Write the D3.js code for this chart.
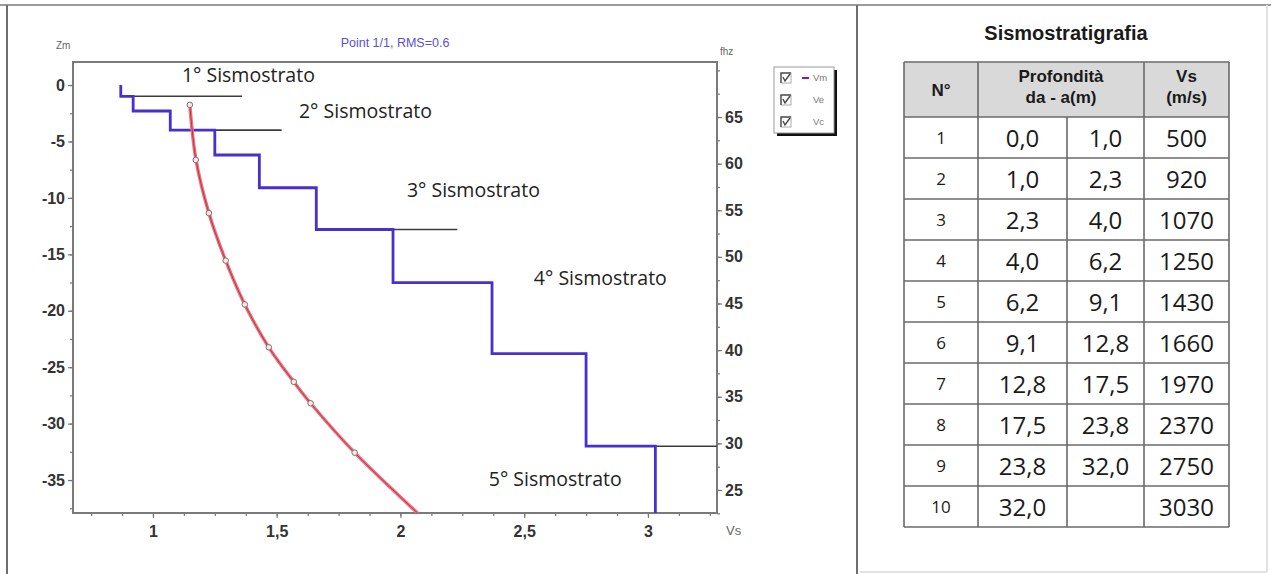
<!DOCTYPE html>
<html>
<head>
<meta charset="utf-8">
<script src="https://cdn.jsdelivr.net/npm/d3@7"></script>
<style>
  body { margin: 0; background: #fff; }
  svg { display: block; }
</style>
</head>
<body>
<script>
// step profile (Vm), depth of layer tops in m, Vs in km/s
const layerTop = [0, 1.0, 2.3, 4.0, 6.2, 9.1, 12.8, 17.5, 23.8, 32.0]
const layerVs = [0.87, 0.92, 1.07, 1.25, 1.43, 1.66, 1.97, 2.37, 2.75, 3.03]

// sismostrato boundaries (black lines)
const boundDepth = [1.0, 4.0, 12.8, 32.0]
const boundFrom = [0.88, 1.07, 1.77, 2.82]
const boundTo = [1.36, 1.52, 2.23, 3.28]

const strataNames = ["1° Sismostrato", "2° Sismostrato", "3° Sismostrato", "4° Sismostrato", "5° Sismostrato"]
const strataVs = [1.117, 1.59, 2.026, 2.539, 2.357]
const strataDepth = [0.27, -2.92, -9.92, -17.72, -35.53]

// observed dispersion points (Ve) and fitted curve (Vc) vs frequency
const obsVs = [1.149, 1.173, 1.226, 1.294, 1.371, 1.468, 1.569, 1.637, 1.815]
const obsHz = [66.3, 60.4, 54.7, 49.6, 44.9, 40.3, 36.6, 34.3, 29.0]
const fitVs = [1.149, 1.174, 1.226, 1.294, 1.371, 1.468, 1.569, 1.637, 1.815, 1.97, 2.07]
const fitHz = [66.3, 60.4, 54.7, 49.6, 44.9, 40.3, 36.6, 34.3, 29.0, 25.0, 22.5]

const depthTicks = [0, -5, -10, -15, -20, -25, -30, -35]
const hzTicks = [25, 30, 35, 40, 45, 50, 55, 60, 65]
const vsTicks = [1, 1.5, 2, 2.5, 3]

// table
const tabNo = [1, 2, 3, 4, 5, 6, 7, 8, 9, 10]
const tabFrom = ["0,0", "1,0", "2,3", "4,0", "6,2", "9,1", "12,8", "17,5", "23,8", "32,0"]
const tabTo = ["1,0", "2,3", "4,0", "6,2", "9,1", "12,8", "17,5", "23,8", "32,0", ""]
const tabVs = [500, 920, 1070, 1250, 1430, 1660, 1970, 2370, 2750, 3030]

const legendNames = ["Vm", "Ve", "Vc"]

const W = 1271, H = 574
const svg = d3.select("body").append("svg").attr("width", W).attr("height", H)

// panel frames
svg.append("line").attr("x1", 0).attr("x2", W).attr("y1", 5).attr("y2", 5)
    .attr("stroke", "#9a9a9a").attr("stroke-width", 2)
svg.append("line").attr("x1", 7).attr("x2", 7).attr("y1", 5).attr("y2", H)
    .attr("stroke", "#6e6e6e").attr("stroke-width", 2)
svg.append("line").attr("x1", 857).attr("x2", 857).attr("y1", 5).attr("y2", H)
    .attr("stroke", "#6e6e6e").attr("stroke-width", 2)
svg.append("line").attr("x1", 1267).attr("x2", 1267).attr("y1", 5).attr("y2", H - 2)
    .attr("stroke", "#e2e2e2").attr("stroke-width", 2)
svg.append("line").attr("x1", 860).attr("x2", 1267).attr("y1", H - 2).attr("y2", H - 2)
    .attr("stroke", "#e2e2e2").attr("stroke-width", 2)

const plot = { left: 73, right: 717, top: 62, bottom: 513 }

const x = d3.scaleLinear().domain([0.677, 3.279]).range([plot.left, plot.right])
const y = d3.scaleLinear().domain([-37.92, 2.04]).range([plot.bottom, plot.top])
const yHz = d3.scaleLinear().domain([22.53, 70.9]).range([plot.bottom, plot.top])

svg.append("clipPath").attr("id", "clip").append("rect")
    .attr("x", plot.left).attr("y", plot.top)
    .attr("width", plot.right - plot.left).attr("height", plot.bottom - plot.top)

const tickFont = "'Liberation Sans', Arial, sans-serif"

function styleAxis(g) {
    g.select(".domain").remove()
    g.selectAll(".tick line").attr("stroke", "#777").attr("stroke-width", 1.2)
    g.selectAll(".tick text").attr("fill", "#333")
        .style("font-family", tickFont).style("font-size", "16px").style("font-weight", "bold")
}

// minor ticks
svg.append("g").attr("transform", `translate(0,${plot.bottom})`)
    .call(d3.axisBottom(x).tickValues(d3.range(0.75, 3.28, 0.125)).tickSize(3).tickFormat(""))
    .call(styleAxis)
svg.append("g").attr("transform", `translate(${plot.left},0)`)
    .call(d3.axisLeft(y).tickValues(d3.range(-37.5, 2.1, 2.5)).tickSize(3).tickFormat(""))
    .call(styleAxis)
svg.append("g").attr("transform", `translate(${plot.right},0)`)
    .call(d3.axisRight(yHz).tickValues(d3.range(22.5, 71, 2.5)).tickSize(3).tickFormat(""))
    .call(styleAxis)

// major axes
svg.append("g").attr("transform", `translate(0,${plot.bottom})`)
    .call(d3.axisBottom(x).tickValues(vsTicks).tickSize(5).tickPadding(8)
        .tickFormat(d => String(d).replace(".", ",")))
    .call(styleAxis)
svg.append("g").attr("transform", `translate(${plot.left},0)`)
    .call(d3.axisLeft(y).tickValues(depthTicks).tickSize(5).tickPadding(3).tickFormat(d => String(d)))
    .call(styleAxis)
svg.append("g").attr("transform", `translate(${plot.right},0)`)
    .call(d3.axisRight(yHz).tickValues(hzTicks).tickSize(5).tickPadding(3))
    .call(styleAxis)

// plot frame
svg.append("rect").attr("x", plot.left).attr("y", plot.top)
    .attr("width", plot.right - plot.left).attr("height", plot.bottom - plot.top)
    .attr("fill", "none").attr("stroke", "#7a7a7a").attr("stroke-width", 2)

// axis captions
svg.append("text").attr("x", 56).attr("y", 49).text("Zm")
    .attr("fill", "#666").style("font-family", tickFont).style("font-size", "10px")
svg.append("text").attr("x", 720).attr("y", 55).text("fhz")
    .attr("fill", "#666").style("font-family", tickFont).style("font-size", "10px")
svg.append("text").attr("x", 726).attr("y", 535).text("Vs")
    .attr("fill", "#666").style("font-family", tickFont).style("font-size", "13px")
svg.append("text").attr("x", 395).attr("y", 47).attr("text-anchor", "middle")
    .text("Point 1/1, RMS=0.6")
    .attr("fill", "#5b4fd6").style("font-family", tickFont).style("font-size", "12.5px")

const area = svg.append("g").attr("clip-path", "url(#clip)")

// boundaries
area.selectAll(".bound").data(boundDepth).join("line").attr("class", "bound")
    .attr("x1", (d, i) => x(boundFrom[i])).attr("x2", (d, i) => x(boundTo[i]))
    .attr("y1", d => y(-d)).attr("y2", d => y(-d))
    .attr("stroke", "#3c3c3c").attr("stroke-width", 1.6)

// step profile
const stepPts = []
layerTop.forEach((t, i) => {
    const bottom = i < layerTop.length - 1 ? layerTop[i + 1] : 40
    stepPts.push([layerVs[i], -t], [layerVs[i], -bottom])
})
const line = d3.line().x(d => x(d[0])).y(d => y(d[1]))
area.append("path").attr("d", line(stepPts))
    .attr("fill", "none").attr("stroke", "#4a2fd0").attr("stroke-width", 2.8)
    .style("stroke-linejoin", "miter")

// fitted curve
const fitLine = d3.line().x(d => x(d[0])).y(d => yHz(d[1])).curve(d3.curveCatmullRom)
const fitPts = fitVs.map((v, i) => [v, fitHz[i]])
area.append("path").attr("d", fitLine(fitPts))
    .attr("fill", "none").attr("stroke", "#f0707e").attr("stroke-width", 3.4)
area.append("path").attr("d", fitLine(fitPts))
    .attr("fill", "none").attr("stroke", "#b83544").attr("stroke-width", 1)

// observed points
area.selectAll(".obs").data(obsVs).join("circle").attr("class", "obs")
    .attr("cx", d => x(d)).attr("cy", (d, i) => yHz(obsHz[i])).attr("r", 2.8)
    .attr("fill", "#fbe9ea").attr("stroke", "#8a6a6a").attr("stroke-width", 1)

// strata labels
svg.selectAll(".strata").data(strataNames).join("text").attr("class", "strata")
    .attr("x", (d, i) => x(strataVs[i])).attr("y", (d, i) => y(strataDepth[i]))
    .text(d => d).attr("fill", "#222")
    .style("font-family", "'Open Sans', sans-serif").style("font-size", "19.5px")

// legend
const lg = svg.append("g").attr("transform", "translate(774,67)")
lg.append("rect").attr("x", 3).attr("y", 3).attr("width", 60).attr("height", 66).attr("fill", "#111")
lg.append("rect").attr("x", 0).attr("y", 0).attr("width", 60).attr("height", 66)
    .attr("fill", "#fff").attr("stroke", "#999").attr("stroke-width", 1)
legendNames.forEach((n, i) => {
    const cy = 11 + i * 22
    lg.append("rect").attr("x", 7).attr("y", cy - 5).attr("width", 10).attr("height", 10)
        .attr("fill", "#fff").attr("stroke", "#aaa").attr("stroke-width", 1)
    lg.append("path").attr("d", `M7,${cy + 5} L7,${cy - 5} L17,${cy - 5}`)
        .attr("fill", "none").attr("stroke", "#555").attr("stroke-width", 1.4)
    lg.append("path").attr("d", `M9,${cy - 1} L11,${cy + 3} L16,${cy - 4}`)
        .attr("fill", "none").attr("stroke", "#444").attr("stroke-width", 1.4)
    lg.append("text").attr("x", 39).attr("y", cy + 3).text(n)
        .attr("fill", "#777").style("font-family", tickFont).style("font-size", "9.5px")
})
lg.append("line").attr("x1", 28).attr("x2", 35).attr("y1", 11).attr("y2", 11)
    .attr("stroke", "#7a2a8a").attr("stroke-width", 2.2)

// table
const tb = { left: 904, top: 62, headH: 55, rowH: 41 }
const colX = [904, 978, 1067, 1144, 1229]
const tFont = "'Open Sans', sans-serif"
const hFont = "'Liberation Sans', Arial, sans-serif"

svg.append("text").attr("x", 1066).attr("y", 40).attr("text-anchor", "middle")
    .text("Sismostratigrafia").attr("fill", "#1a1a1a")
    .style("font-family", hFont).style("font-size", "20px").style("font-weight", "bold")

svg.append("rect").attr("x", colX[0]).attr("y", tb.top)
    .attr("width", colX[4] - colX[0]).attr("height", tb.headH).attr("fill", "#d9d9d9")

const headCells = [
    { cx: (colX[0] + colX[1]) / 2, lines: ["N°"] },
    { cx: (colX[1] + colX[3]) / 2, lines: ["Profondità", "da - a(m)"] },
    { cx: (colX[3] + colX[4]) / 2, lines: ["Vs", "(m/s)"] }
]
headCells.forEach(c => {
    const t = svg.append("text").attr("text-anchor", "middle").attr("fill", "#1a1a1a")
        .style("font-family", hFont).style("font-size", "17px").style("font-weight", "bold")
    if (c.lines.length === 1) {
        t.append("tspan").attr("x", c.cx).attr("y", tb.top + tb.headH / 2 + 6).text(c.lines[0])
    } else {
        c.lines.forEach((l, k) => t.append("tspan").attr("x", c.cx).attr("y", tb.top + 20 + k * 21).text(l))
    }
})

const rowY = i => tb.top + tb.headH + i * tb.rowH
tabNo.forEach((n, i) => {
    const cy = rowY(i) + tb.rowH / 2
    const cells = [String(n), tabFrom[i], tabTo[i], String(tabVs[i])]
    cells.forEach((c, k) => {
        svg.append("text").attr("x", (colX[k] + colX[k + 1]) / 2).attr("y", cy + (k === 0 ? 6 : 9))
            .attr("text-anchor", "middle").text(c).attr("fill", "#1a1a1a")
            .style("font-family", tFont).style("font-size", k === 0 ? "17px" : "24px")
    })
})

const tBottom = rowY(tabNo.length)
const grid = svg.append("g").attr("stroke", "#6a6a6a").attr("stroke-width", 1.6)
d3.range(tabNo.length + 1).forEach(i => {
    grid.append("line").attr("x1", colX[0]).attr("x2", colX[4]).attr("y1", rowY(i)).attr("y2", rowY(i))
})
grid.append("line").attr("x1", colX[0]).attr("x2", colX[4]).attr("y1", tb.top).attr("y2", tb.top)
colX.forEach((cx, k) => {
    const y0 = k === 2 ? rowY(0) : tb.top
    grid.append("line").attr("x1", cx).attr("x2", cx).attr("y1", y0).attr("y2", tBottom)
})
</script>
</body>
</html>
